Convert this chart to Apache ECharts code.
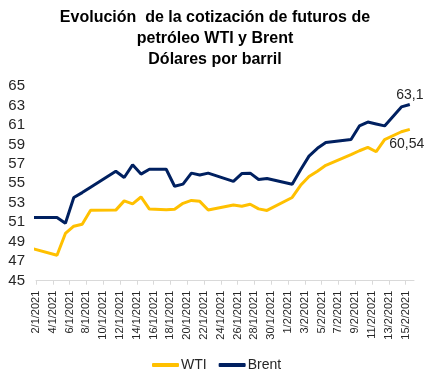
<!DOCTYPE html>
<html>
<head>
<meta charset="utf-8">
<script src="https://cdn.jsdelivr.net/npm/echarts@6/dist/echarts.min.js"></script>
<style>html,body{margin:0;padding:0;background:#fff}#c{width:430px;height:381px}</style>
</head>
<body>
<div id="c"></div>
<script>
const dates = ['31/12/2020','4/1/2021','5/1/2021','6/1/2021','7/1/2021','8/1/2021','11/1/2021','12/1/2021','13/1/2021','14/1/2021','15/1/2021','17/1/2021','18/1/2021','19/1/2021','20/1/2021','21/1/2021','22/1/2021','25/1/2021','26/1/2021','27/1/2021','28/1/2021','29/1/2021','1/2/2021','2/2/2021','3/2/2021','4/2/2021','5/2/2021','8/2/2021','9/2/2021','10/2/2021','11/2/2021','12/2/2021','14/2/2021','15/2/2021'];
const wti = [48.55,47.62,49.85,50.6,50.8,52.24,52.25,53.2,52.9,53.6,52.36,52.28,52.34,52.95,53.25,53.15,52.27,52.77,52.65,52.85,52.38,52.22,53.55,54.8,55.7,56.25,56.85,57.95,58.35,58.7,58.25,59.5,60.3,60.54];
const brent = [51.5,51.5,50.9,53.55,54.05,54.6,56.25,55.6,56.9,55.95,56.45,56.45,54.7,54.92,56.05,55.85,56.05,55.2,56.0,56.05,55.4,55.5,54.9,56.4,57.8,58.6,59.2,59.5,60.9,61.3,61.1,60.9,62.85,63.1];
const tickLabels = ['2/1/2021','4/1/2021','6/1/2021','8/1/2021','10/1/2021','12/1/2021','14/1/2021','16/1/2021','18/1/2021','20/1/2021','22/1/2021','24/1/2021','26/1/2021','28/1/2021','30/1/2021','1/2/2021','3/2/2021','5/2/2021','7/2/2021','9/2/2021','11/2/2021','13/2/2021','15/2/2021'];
const axisEnd = '16/2/2021';
const yTicks = {min: 45, max: 65, step: 2};

const DAY = 86400000;
function parseD(s){ const p = s.split('/').map(Number); return Date.UTC(p[2], p[1]-1, p[0]); }
const origin = parseD(tickLabels[0]);
function dayIdx(s){ return Math.round((parseD(s) - origin) / DAY); }
const tickVals = tickLabels.map(dayIdx);
const labelByVal = {}; tickLabels.forEach((l,i)=>{ labelByVal[tickVals[i]] = l; });
const fmt = v => String(v).replace('.', ',');
const FONT = '"Liberation Sans", Arial, sans-serif';

function build(vals, lastLabel){
  return vals.map((v,i)=>{
    const item = {value: [dayIdx(dates[i]) + 0.5, v]};
    if (i === vals.length - 1) item.label = Object.assign({show: true, formatter: p => fmt(p.value[1]), color: '#262626', fontSize: 14, fontFamily: FONT}, lastLabel);
    return item;
  });
}

const chart = echarts.init(document.getElementById('c'), null, {renderer: 'canvas'});
chart.setOption({
  animation: false,
  backgroundColor: '#fff',
  title: {
    text: 'Evolución  de la cotización de futuros de\npetróleo WTI y Brent\nDólares por barril',
    left: 'center', top: 7, padding: 0,
    textStyle: {fontFamily: FONT, fontSize: 16, fontWeight: 'bold', color: '#000', lineHeight: 21}
  },
  legend: {
    left: 147, top: 353, itemWidth: 27, itemHeight: 4, itemGap: 12, icon: 'roundRect',
    textStyle: {fontFamily: FONT, fontSize: 14, color: '#262626', padding: [0,0,0,-3]},
    data: ['WTI', 'Brent']
  },
  grid: {left: 36, right: 16, top: 86, bottom: 100.3, containLabel: false},
  xAxis: {
    type: 'value', min: 0, max: dayIdx(axisEnd),
    axisLine: {show: true, lineStyle: {color: '#d9d9d9', width: 1}},
    axisTick: {show: true, length: 4, customValues: tickVals, lineStyle: {color: '#d9d9d9'}},
    splitLine: {show: false},
    axisLabel: {
      customValues: tickVals, rotate: 90, margin: 10,
      formatter: v => labelByVal[v] || '',
      fontFamily: FONT, fontSize: 11, color: '#262626'
    }
  },
  yAxis: {
    type: 'value', min: yTicks.min, max: yTicks.max, interval: yTicks.step,
    axisLine: {show: false}, axisTick: {show: false}, splitLine: {show: false},
    axisLabel: {margin: 11, fontFamily: FONT, fontSize: 15, color: '#262626'}
  },
  series: [
    {name: 'WTI', type: 'line', data: build(wti, {position: 'bottom', distance: 8, offset: [-3, 0]}),
     symbol: 'circle', symbolSize: 0, showSymbol: true, color: '#FFC000',
     lineStyle: {width: 3, color: '#FFC000'}, itemStyle: {color: '#FFC000'}, clip: true},
    {name: 'Brent', type: 'line', data: build(brent, {position: 'top', distance: 2}),
     symbol: 'circle', symbolSize: 0, showSymbol: true, color: '#002060',
     lineStyle: {width: 3, color: '#002060'}, itemStyle: {color: '#002060'}, clip: true}
  ]
});
</script>
</body>
</html>
